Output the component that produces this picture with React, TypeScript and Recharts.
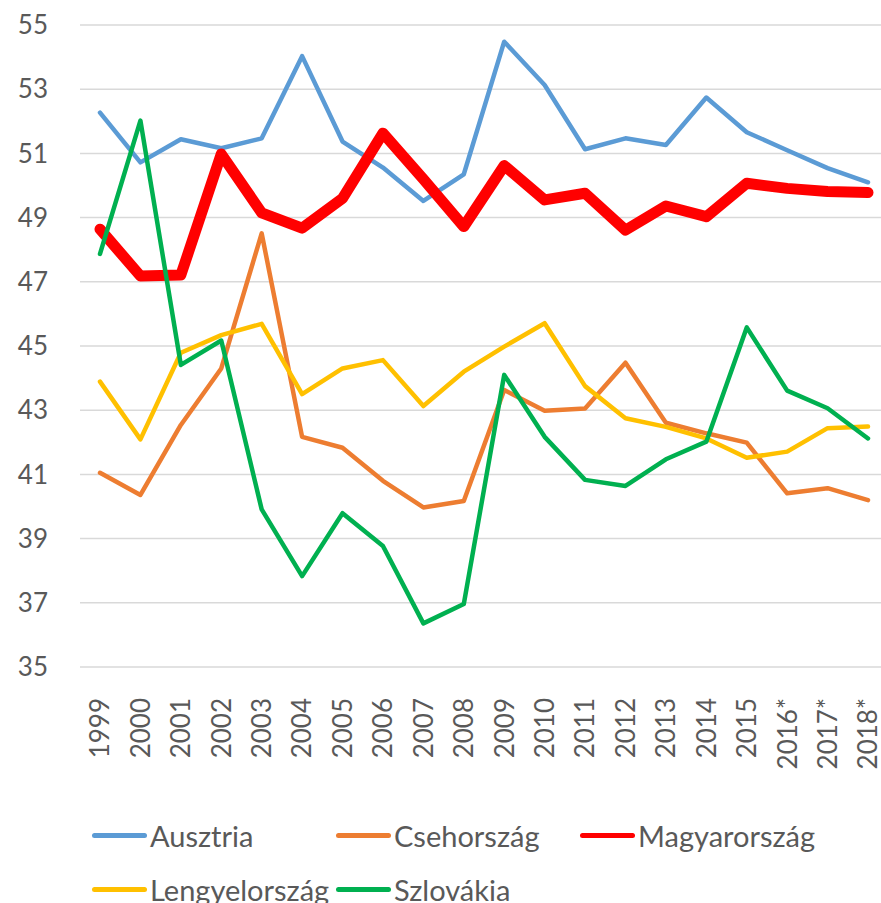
import React from 'react';
import { LineChart, Line, XAxis, YAxis, CartesianGrid } from 'recharts';

const years = ['1999', '2000', '2001', '2002', '2003', '2004', '2005', '2006', '2007', '2008', '2009', '2010', '2011', '2012', '2013', '2014', '2015', '2016*', '2017*', '2018*'];

const ausztria = [52.27, 50.72, 51.44, 51.16, 51.47, 54.03, 51.37, 50.56, 49.52, 50.35, 54.48, 53.13, 51.13, 51.47, 51.26, 52.74, 51.66, 51.1, 50.54, 50.1];
const csehorszag = [41.05, 40.36, 42.54, 44.3, 48.51, 42.17, 41.83, 40.8, 39.97, 40.17, 43.63, 42.98, 43.05, 44.48, 42.61, 42.28, 41.99, 40.41, 40.57, 40.2];
const magyarorszag = [48.64, 47.18, 47.21, 50.98, 49.15, 48.67, 49.6, 51.63, 50.2, 48.72, 50.62, 49.55, 49.76, 48.61, 49.36, 49.03, 50.07, 49.91, 49.81, 49.78];
const lengyelorszag = [43.89, 42.09, 44.79, 45.34, 45.69, 43.5, 44.3, 44.56, 43.13, 44.2, 44.98, 45.71, 43.75, 42.75, 42.48, 42.12, 41.52, 41.71, 42.44, 42.49];
const szlovakia = [47.87, 52.02, 44.41, 45.17, 39.91, 37.83, 39.79, 38.77, 36.36, 36.96, 44.1, 42.17, 40.83, 40.64, 41.47, 42.02, 45.58, 43.61, 43.06, 42.12];

const yTicks = [35, 37, 39, 41, 43, 45, 47, 49, 51, 53, 55];

const series = [
  { key: 'Ausztria', values: ausztria, color: '#5B9BD5', width: 4.5 },
  { key: 'Csehország', values: csehorszag, color: '#ED7D31', width: 4.5 },
  { key: 'Magyarország', values: magyarorszag, color: '#FF0000', width: 11 },
  { key: 'Lengyelország', values: lengyelorszag, color: '#FFC000', width: 4.5 },
  { key: 'Szlovákia', values: szlovakia, color: '#00B050', width: 4.5 },
];

const data = years.map((y, i) => {
  const row: Record<string, string | number> = { year: y };
  series.forEach((s) => {
    row[s.key] = s.values[i];
  });
  return row;
});

const FONT = 'Lato, "Open Sans", sans-serif';
const TEXT = '#595959';

const XTick = (props: any) => {
  const { x, y, payload } = props;
  return (
    <text
      x={x}
      y={y}
      transform={`rotate(-90 ${x} ${y})`}
      textAnchor="end"
      dy="0.36em"
      fill={TEXT}
      fontSize={26}
      fontFamily={FONT}
    >
      {payload.value}
    </text>
  );
};

const LegendBox = () => {
  const cols = 3;
  return (
    <div style={{ position: 'absolute', left: 0, top: 0, width: 881, height: 903, pointerEvents: 'none' }}>
      {series.map((s, i) => {
        const col = i % cols;
        const row = Math.floor(i / cols);
        return (
          <div
            key={s.key}
            style={{
              position: 'absolute',
              left: 92 + col * 244,
              top: 835 + row * 54 - 20,
              height: 40,
              display: 'flex',
              alignItems: 'center',
              fontFamily: FONT,
              fontSize: 29,
              color: TEXT,
              whiteSpace: 'nowrap',
            }}
          >
            <div style={{ width: 55, height: 5, background: s.color, borderRadius: 3, marginRight: 3 }} />
            <span>{s.key}</span>
          </div>
        );
      })}
    </div>
  );
};

export default function App() {
  return (
    <div style={{ position: 'absolute', left: 0, top: 0, width: 881, height: 903, overflow: 'hidden', background: '#fff' }}>
      <LineChart width={890} height={903} data={data} margin={{ top: 25, right: 2, left: 0, bottom: 0 }}>
        <CartesianGrid vertical={false} stroke="#d9d9d9" strokeWidth={1.5} />
        <XAxis
          dataKey="year"
          interval={0}
          axisLine={false}
          tickLine={false}
          tickSize={0}
          tickMargin={31}
          height={236}
          padding={{ left: 20, right: 20 }}
          tick={<XTick />}
        />
        <YAxis
          domain={[35, 55]}
          ticks={yTicks}
          width={80}
          axisLine={false}
          tickLine={false}
          tickSize={0}
          tickMargin={32}
          tick={{ fill: TEXT, fontSize: 26, fontFamily: FONT }}
        />
        {series.map((s) => (
          <Line
            key={s.key}
            type="linear"
            dataKey={s.key}
            stroke={s.color}
            strokeWidth={s.width}
            dot={false}
            activeDot={false}
            strokeLinejoin="round"
            strokeLinecap="round"
            isAnimationActive={false}
          />
        ))}
      </LineChart>
      <LegendBox />
    </div>
  );
}
